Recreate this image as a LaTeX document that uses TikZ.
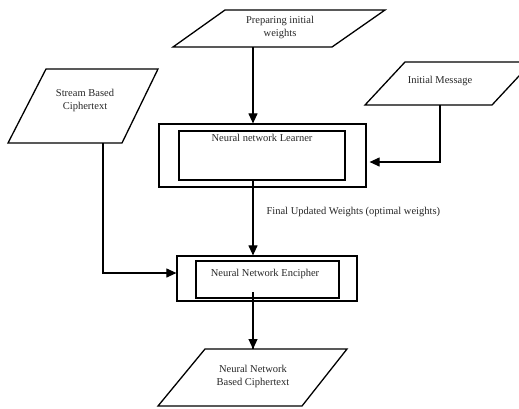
\documentclass[tikz,border=0pt]{standalone}
\usepackage{fontspec}
\setmainfont{Liberation Serif}
\usetikzlibrary{arrows.meta}
\begin{document}
\begin{tikzpicture}[x=1pt,y=-1pt,
  paraline/.style={line width=1.3pt, line join=miter},
  boxline/.style={draw, line width=1.2pt, rectangle, inner sep=0pt},
  txt/.style={font=\fontsize{10.5}{13}\selectfont, text=black!85, align=center, inner sep=0pt},
  flow/.style={line width=1.1pt, -{Triangle[length=10pt,width=9pt]}},
  wire/.style={line width=1.1pt},
]
\useasboundingbox (0,0) rectangle (519,408);
\clip (0,0) rectangle (519,408);

% input and output parallelograms
\draw[paraline] (225,10) -- (385,10) -- (332,47) -- (173,47) -- cycle;
\draw[paraline] (46,69) -- (158,69) -- (122,143) -- (8,143) -- cycle;
\draw[paraline] (405,62) -- (532,62) -- (492,105) -- (365,105) -- cycle;
\draw[paraline] (205,349) -- (347,349) -- (302,406) -- (158,406) -- cycle;

\node[txt] (prep) at (280,27) {Preparing initial\\weights};
\node[txt] (stream) at (85,100) {Stream Based\\Ciphertext};
\node[txt] (initmsg) at (440,81) {Initial Message};
\node[txt] (nnout) at (253,376) {Neural Network\\Based Ciphertext};

% connector ends on the parallelograms
\coordinate (prepB) at (253,47);
\coordinate (streamB) at (103,143);
\coordinate (initB) at (440,105);
\coordinate (outT) at (253,349);

% learner block
\node[boxline, minimum width=207pt, minimum height=63pt] (learnO) at (262.5,155.5) {};
\node[boxline, minimum width=166pt, minimum height=49pt] (learnI) at (262,155.5) {};
\node[txt] (learnT) at (262,138) {Neural network Learner};

% encipher block
\node[boxline, minimum width=180pt, minimum height=45pt] (encO) at (267,278.5) {};
\node[boxline, minimum width=143pt, minimum height=37pt] (encI) at (267.5,279.5) {};
\node[txt] (encT) at (265,274) {Neural Network Encipher};

% connectors
\draw[flow] (prepB) -- (prepB |- learnO.north);
\draw[flow, shorten >=3pt] (initB) |- (learnO.east |- 0,162);
\draw[flow] (learnI.south -| prepB) -- (encO.north -| prepB)
  node[pos=0.42, right=13pt, txt, anchor=west] (wlabel) {Final Updated Weights (optimal weights)};
\draw[flow] (streamB) |- (encO.west |- 0,273);
\draw[wire] (prepB |- 0,292) -- (outT);
\draw[flow] (prepB |- encO.south) -- (outT);
\end{tikzpicture}
\end{document}
